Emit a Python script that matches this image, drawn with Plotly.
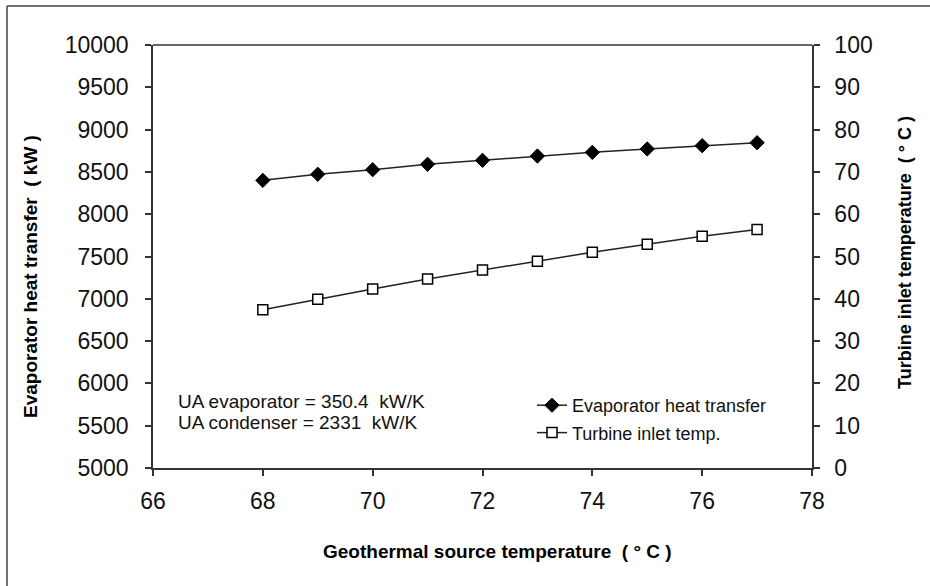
import plotly.graph_objects as go

source_temp = [68, 69, 70, 71, 72, 73, 74, 75, 76, 77]
evap_heat = [8400, 8472, 8526, 8590, 8637, 8688, 8731, 8771, 8810, 8845]
turbine_temp = [37.4, 39.9, 42.3, 44.7, 46.8, 48.9, 51.0, 52.9, 54.8, 56.4]

x_ticks = [66, 68, 70, 72, 74, 76, 78]
left_ticks = list(range(5000, 10001, 500))
right_ticks = list(range(0, 101, 10))

W, H = 930, 586
L, R, T, B = 153, 812, 45, 468
pw, ph = R - L, B - T

def px(x):
    return (x - L) / pw

def py(y):
    return (B - y) / ph

font = "Arial, Liberation Sans, sans-serif"
axcol = "#333333"

fig = go.Figure()
fig.add_trace(go.Scatter(
    x=source_temp, y=evap_heat, name="Evaporator heat transfer",
    mode="lines+markers", legendgroup="a",
    line=dict(color="#222222", width=1.5),
    marker=dict(symbol="diamond", size=11, color="black", line=dict(color="black", width=1)),
))
fig.add_trace(go.Scatter(
    x=source_temp, y=turbine_temp, name="Turbine inlet temp.",
    mode="lines+markers", yaxis="y2", legendgroup="b",
    line=dict(color="#222222", width=1.5),
    marker=dict(symbol="square", size=10, color="white", line=dict(color="black", width=1.5)),
))

tickfont = dict(family=font, size=23, color="#111111")
fig.update_layout(
    width=W, height=H,
    margin=dict(l=L, r=W - R, t=T, b=H - B),
    paper_bgcolor="white", plot_bgcolor="white",
    showlegend=True,
    legend=dict(x=px(532), y=py(387), xanchor="left", yanchor="top",
                font=dict(family=font, size=18, color="#111111"),
                bgcolor="rgba(0,0,0,0)", tracegroupgap=1, traceorder="grouped",
                itemwidth=30),
    xaxis=dict(range=[66, 78], tickvals=x_ticks, showgrid=False, zeroline=False,
               showline=True, linecolor=axcol, linewidth=1.5,
               ticks="outside", ticklen=6, tickcolor=axcol, tickwidth=1.5,
               tickfont=tickfont, ticklabelstandoff=6),
    yaxis=dict(range=[5000, 10000], tickvals=left_ticks, tickformat="d",
               showgrid=False, zeroline=False,
               showline=True, linecolor=axcol, linewidth=1.5,
               ticks="outside", ticklen=6, tickcolor=axcol, tickwidth=1.5,
               tickfont=tickfont, ticklabelstandoff=12),
    yaxis2=dict(range=[0, 100], tickvals=right_ticks, tickformat="d",
                overlaying="y", side="right",
                showgrid=False, zeroline=False,
                showline=True, linecolor=axcol, linewidth=1.5,
                ticks="outside", ticklen=6, tickcolor=axcol, tickwidth=1.5,
                tickfont=tickfont, ticklabelstandoff=10),
)

# top border of plot frame (Excel-style box)
fig.add_shape(type="line", xref="paper", yref="paper", x0=0, x1=1, y0=1, y1=1,
              line=dict(color=axcol, width=1.5))

# outer chart frame
fig.add_shape(type="line", xref="paper", yref="paper", x0=px(7), x1=px(7), y0=py(6), y1=py(590),
              line=dict(color="#444444", width=1.5))
fig.add_shape(type="line", xref="paper", yref="paper", x0=px(7), x1=px(935), y0=py(6), y1=py(6),
              line=dict(color="#444444", width=1.5))

titlefont = dict(family=font, size=19, color="black")
fig.add_annotation(text="<b>Evaporator heat transfer  ( kW )</b>", xref="paper", yref="paper",
                   x=px(30), y=py(277), xanchor="center", yanchor="middle",
                   textangle=-90, showarrow=False, font=titlefont)
fig.add_annotation(text="<b>Turbine inlet temperature  ( ° C )</b>", xref="paper", yref="paper",
                   x=px(905), y=py(253), xanchor="center", yanchor="middle",
                   textangle=-90, showarrow=False, font=dict(family=font, size=18, color="black"))
fig.add_annotation(text="<b>Geothermal source temperature  ( ° C )</b>", xref="paper", yref="paper",
                   x=px(497), y=py(551), xanchor="center", yanchor="middle",
                   showarrow=False, font=titlefont)

notefont = dict(family=font, size=19, color="#111111")
fig.add_annotation(text="UA evaporator = 350.4  kW/K", xref="paper", yref="paper",
                   x=px(176), y=py(401), xanchor="left", yanchor="middle",
                   showarrow=False, font=notefont)
fig.add_annotation(text="UA condenser = 2331  kW/K", xref="paper", yref="paper",
                   x=px(176), y=py(422), xanchor="left", yanchor="middle",
                   showarrow=False, font=notefont)

fig.write_html("out.html")
